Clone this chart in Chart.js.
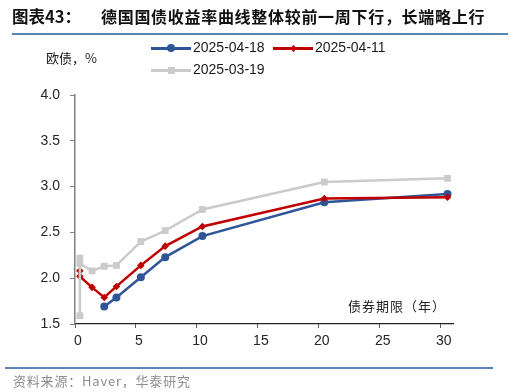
<!DOCTYPE html>
<html>
<head>
<meta charset="utf-8">
<script src="https://cdn.jsdelivr.net/npm/chart.js@4"></script>
<style>
  body { margin: 0; background: #fff; }
  #wrap { position: relative; width: 513px; height: 392px; overflow: hidden;
    font-family: "Liberation Sans", "Noto Sans CJK SC", sans-serif; }
  #chart { position: absolute; left: 0; top: 0; }
  .txt { position: absolute; white-space: nowrap; }
  .cjk { font-family: "Noto Sans CJK SC", sans-serif; }
  .rule { position: absolute; height: 1.5px; background: #5b83b8; }
  .lg { position: absolute; height: 14px; width: 120px; }
  .lg .ln { position: absolute; left: 0; top: 6px; width: 40px; height: 2.5px; }
  .lg .mk { position: absolute; }
  .lg span { position: absolute; left: 42px; top: -2px; font-size: 14px; color: #1a1a1a; white-space: nowrap; }
</style>
</head>
<body>
<div id="wrap">
  <canvas id="chart" width="513" height="392"></canvas>
  <div class="txt cjk" style="left:12px;top:4px;font-size:16.5px;color:#111;font-weight:bold;">图表43：</div>
  <div class="txt cjk" style="left:101px;top:4px;font-size:16px;letter-spacing:0.7px;color:#111;font-weight:bold;">德国国债收益率曲线整体较前一周下行，长端略上行</div>
  <div class="rule" style="left:12px;top:33px;width:496px;"></div>
  <div class="txt cjk" style="left:46px;top:48px;font-size:13px;color:#222;">欧债，%</div>

  <div class="lg" style="left:151px;top:41px;">
    <div class="ln" style="background:#2f5597"></div>
    <div class="mk" style="left:16px;top:3px;width:8px;height:8px;border-radius:50%;background:#2f5597"></div>
    <span>2025-04-18</span>
  </div>
  <div class="lg" style="left:273px;top:41px;">
    <div class="ln" style="background:#c00000"></div>
    <div class="mk" style="left:17.5px;top:4.5px;width:5px;height:5px;transform:rotate(45deg);background:#c00000"></div>
    <span>2025-04-11</span>
  </div>
  <div class="lg" style="left:151px;top:63px;">
    <div class="ln" style="background:#cbcbcb"></div>
    <div class="mk" style="left:16.5px;top:3.5px;width:7px;height:7px;background:#cbcbcb"></div>
    <span>2025-03-19</span>
  </div>

  <div class="txt cjk" style="left:348px;top:296px;font-size:13px;letter-spacing:1px;color:#222;">债券期限（年）</div>
  <div class="rule" style="left:5px;top:367px;width:488px;"></div>
  <div class="txt cjk" style="left:13px;top:371px;font-size:13px;letter-spacing:0.8px;color:#8c8c8c;">资料来源：Haver，华泰研究</div>
</div>
<script>
// tenor (years) and yield (%)
const tenor0418 = [2.4, 3.4, 5.4, 7.4, 10.45, 20.45, 30.55];
const yield0418 = [1.69, 1.79, 2.01, 2.23, 2.46, 2.83, 2.92];

const tenor0411 = [0.4, 0.4, 1.4, 2.4, 3.4, 5.4, 7.4, 10.45, 20.45, 30.55];
const yield0411 = [2.08, 2.02, 1.90, 1.79, 1.91, 2.14, 2.35, 2.565, 2.87, 2.885];

const tenor0319 = [0.4, 0.4, 0.4, 1.4, 2.4, 3.4, 5.4, 7.4, 10.45, 20.45, 30.55];
const yield0319 = [2.22, 1.59, 2.16, 2.08, 2.13, 2.14, 2.40, 2.52, 2.75, 3.05, 3.09];

const xTicks = [0, 5, 10, 15, 20, 25, 30];

function pts(xs, ys) {
  return xs.map((x, i) => ({ x: x, y: ys[i] }));
}

const ctx = document.getElementById('chart').getContext('2d');
new Chart(ctx, {
  type: 'line',
  data: {
    datasets: [
      {
        label: '2025-03-19',
        data: pts(tenor0319, yield0319),
        borderColor: '#cbcbcb',
        backgroundColor: '#cbcbcb',
        borderWidth: 2.5,
        pointStyle: 'rect',
        pointRadius: 4.8,
        pointBorderWidth: 0
      },
      {
        label: '2025-04-11',
        data: pts(tenor0411, yield0411),
        borderColor: '#c00000',
        backgroundColor: '#c00000',
        borderWidth: 2.5,
        pointStyle: 'rectRot',
        pointRadius: 3.8,
        pointBorderWidth: 0
      },
      {
        label: '2025-04-18',
        data: pts(tenor0418, yield0418),
        borderColor: '#2f5597',
        backgroundColor: '#2f5597',
        borderWidth: 2.5,
        pointStyle: 'circle',
        pointRadius: 4,
        pointBorderWidth: 0
      }
    ]
  },
  options: {
    responsive: false,
    animation: false,
    layout: { padding: { left: 35, right: 60, top: 95, bottom: 38 } },
    plugins: {
      legend: { display: false },
      tooltip: { enabled: false }
    },
    scales: {
      x: {
        type: 'linear',
        min: 0,
        max: 31,
        afterBuildTicks: s => { s.ticks = xTicks.map(v => ({ value: v })); },
        afterFit: s => { s.height = 30; },
        border: { color: '#222', width: 1.2 },
        grid: { drawOnChartArea: false, tickLength: 4, color: '#555' },
        ticks: { padding: 5, labelOffset: 3, color: '#262626', font: { size: 14, family: 'Liberation Sans' } }
      },
      y: {
        min: 1.5,
        max: 4.0,
        afterFit: s => { s.width = 40; },
        border: { color: '#808080', width: 1.5 },
        grid: { drawOnChartArea: false, tickLength: 5, color: '#808080' },
        ticks: { stepSize: 0.5, padding: 10, color: '#262626',
          font: { size: 14, family: 'Liberation Sans' },
          callback: v => v.toFixed(1) }
      }
    }
  }
});
</script>
</body>
</html>
